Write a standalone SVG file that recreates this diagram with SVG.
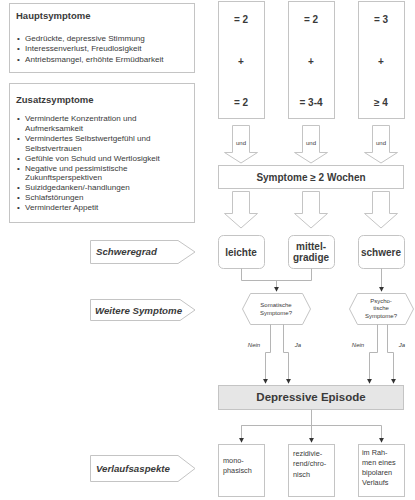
<svg xmlns="http://www.w3.org/2000/svg" width="415" height="500" viewBox="0 0 415 500">
<defs>
<style>
text{font-family:"Liberation Sans",Arial,sans-serif;fill:#3a3a3a}
.box{fill:#fff;stroke:#c4c4c4;stroke-width:1}
.ttl{font-size:9.5px;font-weight:bold}
.bul{font-size:8.1px}
.num{font-size:10px;font-weight:bold;text-anchor:middle}
.sev{font-size:10px;font-weight:bold;text-anchor:middle}
.lbl{font-size:9.7px;font-weight:bold;font-style:italic}
.sm{font-size:6px;text-anchor:middle}
.yn{font-size:6px;font-style:italic;text-anchor:middle}
.out{font-size:7.3px}
.ln{fill:none;stroke:#b5b5b5;stroke-width:1}
.blk{fill:#fff;stroke:#c4c4c4;stroke-width:1}
</style>
<marker id="ah" viewBox="0 0 6 6" refX="5" refY="3" markerWidth="5" markerHeight="5" orient="auto">
<path d="M0,0 L6,3 L0,6 z" fill="#333"/>
</marker>
</defs>
<rect width="415" height="500" fill="#fff"/>

<g id="haupt">
<rect class="box" x="9.5" y="3.5" width="185" height="69"/>
<text class="ttl" x="16" y="19">Hauptsymptome</text>
<text class="bul" x="17" y="41">•</text><text class="bul" x="25" y="41">Gedrückte, depressive Stimmung</text>
<text class="bul" x="17" y="51">•</text><text class="bul" x="25" y="51">Interessenverlust, Freudlosigkeit</text>
<text class="bul" x="17" y="62">•</text><text class="bul" x="25" y="62">Antriebsmangel, erhöhte Ermüdbarkeit</text>
</g>

<g id="zusatz">
<rect class="box" x="9.5" y="83.5" width="185" height="139"/>
<text class="ttl" x="16" y="103">Zusatzsymptome</text>
<text class="bul" x="17" y="121">•</text><text class="bul" x="25" y="121">Verminderte Konzentration und</text>
<text class="bul" x="25" y="131">Aufmerksamkeit</text>
<text class="bul" x="17" y="141">•</text><text class="bul" x="25" y="141">Vermindertes Selbstwertgefühl und</text>
<text class="bul" x="25" y="151">Selbstvertrauen</text>
<text class="bul" x="17" y="161">•</text><text class="bul" x="25" y="161">Gefühle von Schuld und Wertlosigkeit</text>
<text class="bul" x="17" y="171">•</text><text class="bul" x="25" y="171">Negative und pessimistische</text>
<text class="bul" x="25" y="180">Zukunftsperspektiven</text>
<text class="bul" x="17" y="190">•</text><text class="bul" x="25" y="190">Suizidgedanken/-handlungen</text>
<text class="bul" x="17" y="200">•</text><text class="bul" x="25" y="200">Schlafstörungen</text>
<text class="bul" x="17" y="210">•</text><text class="bul" x="25" y="210">Verminderter Appetit</text>
</g>

<g id="col1">
<rect class="box" x="218.5" y="1.5" width="46" height="117"/>
<text class="num" x="241" y="23">= 2</text>
<text class="num" x="241" y="65">+</text>
<text class="num" x="241" y="106">= 2</text>
</g>
<g id="col2">
<rect class="box" x="288.5" y="1.5" width="46" height="117"/>
<text class="num" x="311" y="23">= 2</text>
<text class="num" x="311" y="65">+</text>
<text class="num" x="311" y="106">= 3-4</text>
</g>
<g id="col3">
<rect class="box" x="358.5" y="1.5" width="46" height="117"/>
<text class="num" x="381" y="23">= 3</text>
<text class="num" x="381" y="65">+</text>
<text class="num" x="381" y="106">≥ 4</text>
</g>

<g id="und-arrows">
<path class="blk" d="M232.5,125.5 H249.5 V152.5 H257.5 L241,163 L224.5,152.5 H232.5 Z"/>
<path class="blk" d="M302.5,125.5 H319.5 V152.5 H327.5 L311,163 L294.5,152.5 H302.5 Z"/>
<path class="blk" d="M372.5,125.5 H389.5 V152.5 H397.5 L381,163 L364.5,152.5 H372.5 Z"/>
<text class="sm" x="241" y="145">und</text>
<text class="sm" x="311" y="145">und</text>
<text class="sm" x="381" y="145">und</text>
</g>

<g id="wochen">
<rect class="box" x="218.5" y="165.5" width="185" height="23"/>
<text class="sev" x="311" y="181">Symptome ≥ 2 Wochen</text>
</g>

<g id="down-arrows">
<path class="blk" d="M232.5,191.5 H249.5 V213.5 H257.5 L241,228 L224.5,213.5 H232.5 Z"/>
<path class="blk" d="M302.5,191.5 H319.5 V213.5 H327.5 L311,228 L294.5,213.5 H302.5 Z"/>
<path class="blk" d="M372.5,191.5 H389.5 V213.5 H397.5 L381,228 L364.5,213.5 H372.5 Z"/>
</g>

<g id="label-schweregrad">
<path class="box" d="M90.5,240.5 H178 L195,252 L178,263.5 H90.5 Z"/>
<text class="lbl" x="96" y="255">Schweregrad</text>
</g>
<g id="label-weitere">
<path class="box" d="M90.5,299.5 H180 L195,310 L180,320.5 H90.5 Z"/>
<text class="lbl" x="95" y="313.5">Weitere Symptome</text>
</g>
<g id="label-verlauf">
<path class="box" d="M90.5,455.5 H178 L195,468.5 L178,481.5 H90.5 Z"/>
<text class="lbl" x="96" y="471.5">Verlaufsaspekte</text>
</g>

<g id="leichte">
<rect class="box" x="218.5" y="235.5" width="46" height="33" rx="5"/>
<text class="sev" x="241" y="256">leichte</text>
</g>
<g id="mittelgradige">
<rect class="box" x="288.5" y="235.5" width="46" height="33" rx="5"/>
<text class="sev" x="311" y="250">mittel-</text>
<text class="sev" x="311" y="261">gradige</text>
</g>
<g id="schwere">
<rect class="box" x="358.5" y="235.5" width="46" height="33" rx="5"/>
<text class="sev" x="381" y="256">schwere</text>
</g>

<g id="somatisch">
<path class="box" d="M242.5,309 L250.5,293.5 H302.5 L310.5,309 L302.5,324.5 H250.5 Z"/>
<text class="sm" x="276" y="307">Somatische</text>
<text class="sm" x="276" y="315">Symptome?</text>
</g>
<g id="psychotisch">
<path class="box" d="M349.5,309 L357.5,293.5 H405.5 L413.5,309 L405.5,324.5 H357.5 Z"/>
<text class="sm" x="381" y="303">Psycho-</text>
<text class="sm" x="381" y="310">tische</text>
<text class="sm" x="381" y="318">Symptome?</text>
</g>

<g id="episode">
<rect x="218.5" y="385.5" width="185" height="24" fill="#e6e6e6" stroke="#c4c4c4"/>
<text x="311" y="401" style="font-size:11.5px;font-weight:bold;text-anchor:middle">Depressive Episode</text>
</g>

<g id="mono">
<rect class="box" x="218.5" y="444.5" width="46" height="52"/>
<text class="out" x="223" y="463">mono-</text>
<text class="out" x="223" y="473">phasisch</text>
</g>
<g id="rezidiv">
<rect class="box" x="288.5" y="444.5" width="46" height="52"/>
<text class="out" x="293" y="456">rezidivie-</text>
<text class="out" x="293" y="466">rend/chro-</text>
<text class="out" x="293" y="477">nisch</text>
</g>
<g id="bipolar">
<rect class="box" x="358.5" y="444.5" width="46" height="52"/>
<text class="out" x="362" y="455">im Rah-</text>
<text class="out" x="362" y="465">men eines</text>
<text class="out" x="362" y="475">bipolaren</text>
<text class="out" x="362" y="485">Verlaufs</text>
</g>

<g id="connectors">
<path class="ln" d="M241.5,268.5 V280.5 H311.5 V268.5"/>
<path class="ln" d="M276.5,280.5 V291" marker-end="url(#ah)"/>
<path class="ln" d="M381.5,268.5 V291" marker-end="url(#ah)"/>
<path class="ln" d="M270.5,324.5 V352.5 H265.5 V383" marker-end="url(#ah)"/>
<path class="ln" d="M283.5,324.5 V352.5 H288.5 V383" marker-end="url(#ah)"/>
<path class="ln" d="M377.5,324.5 V352.5 H369.5 V383" marker-end="url(#ah)"/>
<path class="ln" d="M387.5,324.5 V352.5 H393.5 V383" marker-end="url(#ah)"/>
<text class="yn" x="254" y="347">Nein</text>
<text class="yn" x="298" y="347">Ja</text>
<text class="yn" x="358" y="347">Nein</text>
<text class="yn" x="402" y="347">Ja</text>
<path class="ln" d="M311.5,409.5 V425.5"/>
<path class="ln" d="M241.5,442 V425.5 H381.5 V442" marker-end="url(#ah)"/>
<path class="ln" d="M241.5,425.5 V442" marker-end="url(#ah)"/>
<path class="ln" d="M311.5,425.5 V442" marker-end="url(#ah)"/>
</g>
</svg>
